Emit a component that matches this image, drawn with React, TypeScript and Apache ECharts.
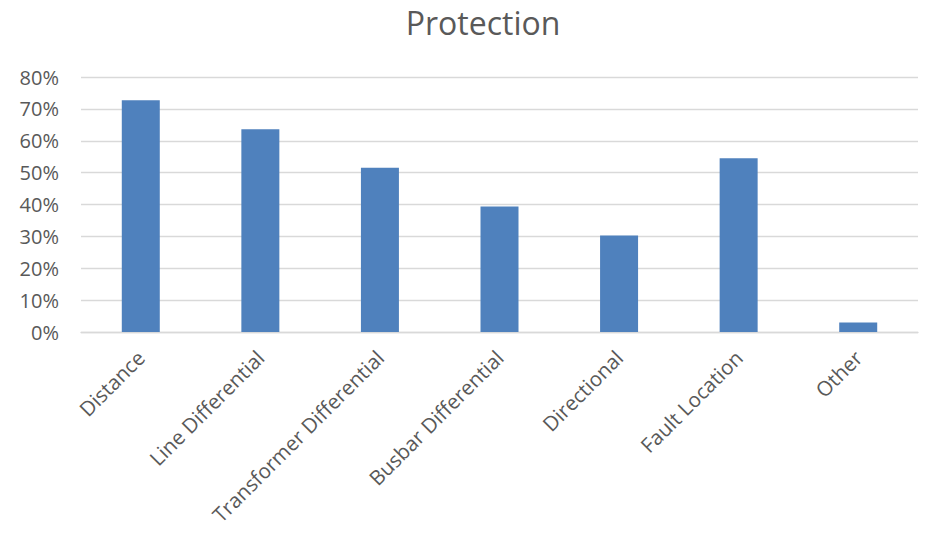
import React, { useEffect, useRef } from "react";
import * as echarts from "echarts";

const categories = [
  "Distance",
  "Line Differential",
  "Transformer Differential",
  "Busbar Differential",
  "Directional",
  "Fault Location",
  "Other",
];
const shares = [72.7, 63.6, 51.5, 39.4, 30.3, 54.5, 3.0];
const yTicks = { min: 0, max: 80, interval: 10 };

const FONT = "'Open Sans', 'Noto Sans', sans-serif";
const TEXT = "#595959";

export default function App() {
  const ref = useRef<HTMLDivElement>(null);

  useEffect(() => {
    if (!ref.current) return;
    const chart = echarts.init(ref.current, undefined, { renderer: "svg" });
    chart.setOption({
      animation: false,
      backgroundColor: "#ffffff",
      title: {
        text: "Protection",
        left: 478,
        textAlign: "center",
        top: 1,
        textStyle: { fontFamily: FONT, fontSize: 32, fontWeight: "normal", color: TEXT },
      },
      grid: { left: 81, right: 14, top: 77, bottom: 203 },
      xAxis: {
        type: "category",
        data: categories,
        axisTick: { show: false },
        axisLine: { lineStyle: { color: "#D9D9D9", width: 1.3 } },
        axisLabel: {
          rotate: 45,
          interval: 0,
          margin: 22,
          fontFamily: FONT,
          fontSize: 20.5,
          color: TEXT,
        },
      },
      yAxis: {
        type: "value",
        min: yTicks.min,
        max: yTicks.max,
        interval: yTicks.interval,
        axisLine: { show: false },
        axisTick: { show: false },
        splitLine: { lineStyle: { color: "#D9D9D9", width: 1.3 } },
        axisLabel: {
          formatter: "{value}%",
          margin: 22,
          fontFamily: FONT,
          fontSize: 20,
          color: TEXT,
        },
      },
      series: [
        {
          type: "bar",
          data: shares,
          barWidth: 38,
          itemStyle: { color: "#4F81BD" },
        },
      ],
    });
    return () => chart.dispose();
  }, []);

  return (
    <div
      ref={ref}
      style={{ position: "absolute", left: 0, top: 0, width: 932, height: 535 }}
    />
  );
}
